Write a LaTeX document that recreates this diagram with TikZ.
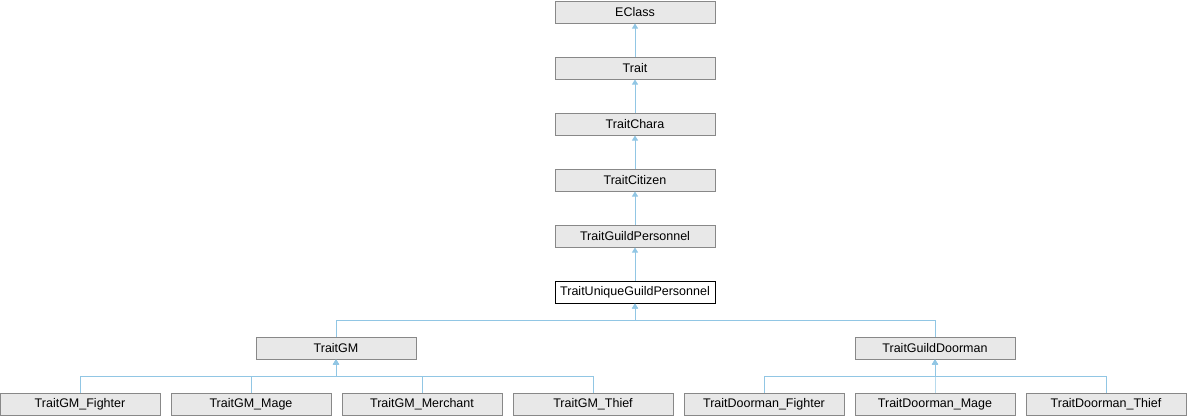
\documentclass[tikz,border=0pt]{standalone}
\usepackage{fontspec}
\setmainfont{Liberation Sans}
\usepackage{tikz}
\usetikzlibrary{arrows.meta}

\definecolor{boxfill}{RGB}{232,232,232}
\definecolor{boxline}{RGB}{136,136,136}
\definecolor{edgeblue}{RGB}{145,198,228}

\tikzset{
  cls/.style={draw=boxline,fill=boxfill,line width=1pt,minimum width=160pt,
    minimum height=22pt,inner sep=0pt,font=\fontsize{12.5}{14}\selectfont},
  curcls/.style={cls,draw=black,fill=white},
  inh/.style={draw=edgeblue,line width=1pt,-{Triangle[length=5pt,width=6pt]}}
}

\begin{document}
\begin{tikzpicture}[x=1pt,y=-1pt]
\useasboundingbox (0,0) rectangle (1187,416);
% chain
\node[cls] (eclass) at (635,12) {EClass};
\node[cls] (trait) at (635,68) {Trait};
\node[cls] (chara) at (635,124) {TraitChara};
\node[cls] (citizen) at (635,180) {TraitCitizen};
\node[cls] (personnel) at (635,236) {TraitGuildPersonnel};
\node[curcls] (unique) at (635,292) {TraitUniqueGuildPersonnel};
\node[cls] (gm) at (336,348) {TraitGM};
\node[cls] (doorman) at (935,348) {TraitGuildDoorman};
% leaves
\node[cls] (gmfighter) at (80,404) {TraitGM\_Fighter};
\node[cls] (gmmage) at (251,404) {TraitGM\_Mage};
\node[cls] (gmmerchant) at (422,404) {TraitGM\_Merchant};
\node[cls] (gmthief) at (593,404) {TraitGM\_Thief};
\node[cls] (dfighter) at (764,404) {TraitDoorman\_Fighter};
\node[cls] (dmage) at (935,404) {TraitDoorman\_Mage};
\node[cls] (dthief) at (1106,404) {TraitDoorman\_Thief};
\coordinate (busa) at (0,320);
\coordinate (busb) at (0,376);
\draw[inh] (trait) -- (eclass);
\draw[inh] (chara) -- (trait);
\draw[inh] (citizen) -- (chara);
\draw[inh] (personnel) -- (citizen);
\draw[inh] (unique) -- (personnel);
\foreach \c in {gm,doorman}
  \draw[inh] (\c.north) -- (\c.north |- busa) -| (unique.south);
\foreach \c in {gmfighter,gmmage,gmmerchant,gmthief}
  \draw[inh] (\c.north) -- (\c.north |- busb) -| (gm.south);
\foreach \c in {dfighter,dmage,dthief}
  \draw[inh] (\c.north) -- (\c.north |- busb) -| (doorman.south);
\end{tikzpicture}
\end{document}
